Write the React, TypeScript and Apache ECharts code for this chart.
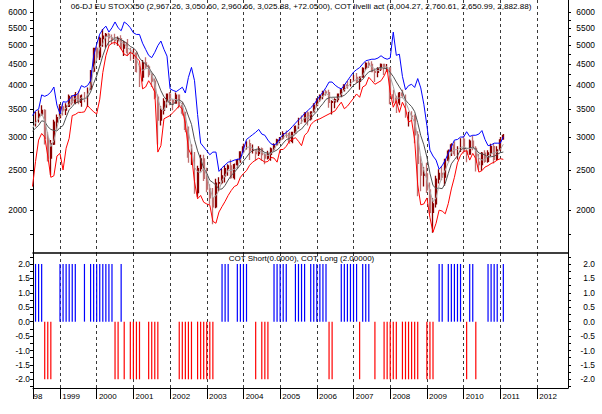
import React, { useEffect, useRef } from 'react';
import * as echarts from 'echarts';

// Monthly bars, April 1998 .. February 2011 (155 months)
const START_YEAR = 1998;
const START_MONTH = 3; // April (0-based)

const opens = [
  3153, 3195, 3358, 3406, 3480, 2977, 2671, 2887, 3260,
  3342, 3547, 3485, 3559, 3757, 3629, 3788, 3638, 3769, 3669, 3922, 4323,
  4904, 4684, 5182, 5249, 5303, 5200, 5145, 5122, 5175, 4915, 5057, 4790,
  4772, 4779, 4318, 4185, 4525, 4426, 4243, 4091, 3744, 3297, 3478, 3658,
  3806, 3670, 3624, 3784, 3574, 3426, 3133, 2685, 2710, 2204, 2518, 2657,
  2386, 2249, 2141, 2036, 2324, 2331, 2419, 2519, 2556, 2395, 2575, 2631,
  2761, 2839, 2894, 2787, 2788, 2737, 2811, 2720, 2671, 2726, 2811, 2876,
  2951, 2985, 3058, 3056, 2930, 3077, 3182, 3327, 3263, 3429, 3320, 3448,
  3579, 3691, 3775, 3854, 3839, 3638, 3649, 3692, 3808, 3899, 4004, 3987,
  4120, 4178, 4087, 4182, 4392, 4512, 4489, 4316, 4294, 4381, 4489, 4398,
  4400, 3792, 3724, 3628, 3826, 3777, 3352, 3367, 3365, 3038, 2592, 2430,
  2447, 2237, 1977, 2071, 2375, 2452, 2402, 2639, 2775, 2873, 2737, 2789,
  2965, 2776, 2728, 2932, 2817, 2610, 2574, 2742, 2622, 2748, 2845, 2651,
  2793, 2967.26,
];
const highs = [
  3340, 3450, 3480, 3580, 3500, 3080, 2950, 3300, 3400,
  3600, 3610, 3620, 3800, 3790, 3850, 3880, 3800, 3850, 3950, 4350, 4920,
  4960, 5240, 5460, 5340, 5350, 5300, 5320, 5240, 5280, 5110, 5170, 4920,
  4890, 4800, 4450, 4600, 4670, 4480, 4290, 4150, 3800, 3560, 3720, 3820,
  3850, 3700, 3840, 3800, 3650, 3450, 3180, 2880, 2760, 2560, 2720, 2720,
  2530, 2310, 2260, 2380, 2400, 2520, 2560, 2580, 2650, 2590, 2660, 2770,
  2890, 2930, 2960, 2880, 2800, 2850, 2830, 2740, 2780, 2830, 2900, 2970,
  3000, 3100, 3110, 3090, 3090, 3200, 3340, 3380, 3440, 3460, 3460, 3620,
  3720, 3800, 3880, 3900, 3900, 3680, 3720, 3820, 3920, 4020, 4100, 4140,
  4230, 4280, 4200, 4420, 4540, 4570, 4570, 4390, 4420, 4510, 4500, 4500,
  4420, 3900, 3770, 3850, 3900, 3800, 3450, 3460, 3400, 3100, 2700, 2540,
  2600, 2330, 2140, 2420, 2510, 2560, 2660, 2800, 2900, 2930, 2850, 2980,
  3020, 2800, 2960, 3020, 2850, 2730, 2760, 2790, 2790, 2890, 2900, 2850,
  3000, 3050.6,
];
const lows = [
  3110, 3180, 3250, 3380, 2880, 2620, 2430, 2870, 3110,
  3320, 3380, 3390, 3550, 3580, 3600, 3600, 3550, 3640, 3550, 3900, 4300,
  4580, 4600, 4950, 4920, 4980, 5020, 5000, 4980, 4880, 4700, 4700, 4580,
  4620, 4290, 3960, 4080, 4380, 4180, 3960, 3700, 2880, 3200, 3400, 3530,
  3580, 3480, 3610, 3520, 3380, 3080, 2600, 2570, 2190, 2150, 2480, 2350,
  2210, 2060, 1850, 2020, 2220, 2310, 2330, 2420, 2380, 2370, 2520, 2600,
  2750, 2800, 2640, 2740, 2630, 2700, 2630, 2580, 2650, 2630, 2780, 2860,
  2900, 2960, 2990, 2890, 2900, 3050, 3140, 3230, 3250, 3200, 3290, 3440,
  3540, 3650, 3700, 3770, 3530, 3400, 3520, 3640, 3740, 3860, 3920, 3970,
  4080, 4050, 3900, 4170, 4360, 4400, 4300, 4070, 4180, 4330, 4230, 4310,
  3600, 3620, 3430, 3580, 3720, 3340, 3180, 3280, 2900, 2160, 2220, 2280,
  2200, 1960, 1765, 2030, 2320, 2360, 2290, 2610, 2700, 2700, 2650, 2760,
  2740, 2610, 2720, 2790, 2480, 2500, 2490, 2600, 2600, 2700, 2590, 2640,
  2780, 2960.66,
];
const closes = [
  3195, 3358, 3406, 3480, 2977, 2671, 2887, 3260, 3342,
  3547, 3485, 3559, 3757, 3629, 3788, 3638, 3769, 3669, 3922, 4323, 4904,
  4684, 5182, 5249, 5303, 5200, 5145, 5122, 5175, 4915, 5057, 4790, 4772,
  4779, 4318, 4185, 4525, 4426, 4243, 4091, 3744, 3297, 3478, 3658, 3806,
  3670, 3624, 3784, 3574, 3426, 3133, 2685, 2710, 2204, 2518, 2657, 2386,
  2249, 2141, 2036, 2324, 2331, 2419, 2519, 2556, 2395, 2575, 2631, 2761,
  2839, 2894, 2787, 2788, 2737, 2811, 2720, 2671, 2726, 2811, 2876, 2951,
  2985, 3058, 3056, 2930, 3077, 3182, 3327, 3263, 3429, 3320, 3448, 3579,
  3691, 3775, 3854, 3839, 3638, 3649, 3692, 3808, 3899, 4004, 3987, 4120,
  4178, 4087, 4182, 4392, 4512, 4489, 4316, 4294, 4381, 4489, 4398, 4400,
  3792, 3724, 3628, 3826, 3777, 3352, 3367, 3365, 3038, 2592, 2430, 2447,
  2237, 1977, 2071, 2375, 2452, 2402, 2639, 2775, 2873, 2737, 2789, 2965,
  2776, 2728, 2932, 2817, 2610, 2574, 2742, 2622, 2748, 2845, 2651, 2793,
  2954, 3025.88,
];

// "COT livelli" lines
const blueLevel = [
  3380, 3470, 3500, 3790, 3760, 3790, 3850, 3960, 3580,
  3410, 3650, 3640, 3690, 3775, 3775, 3830, 3990, 3955, 3990, 4100, 4700,
  5020, 5310, 5450, 5550, 5370, 5500, 5680, 5500, 5410, 5680, 5610, 5500,
  5350, 5300, 5300, 5050, 4880, 4720, 4660, 4800, 4980, 5110, 4880, 4700,
  3920, 3885, 3860, 3905, 3955, 3830, 4175, 4415, 4100, 3400, 2900, 2840,
  2780, 2720, 2760, 2760, 2480, 2530, 2570, 2610, 2620, 2640, 2650, 2660,
  2800, 2960, 3000, 3040, 3080, 3130, 3050, 3030, 2950, 2890, 2870, 2900,
  2990, 3040, 3080, 3120, 3180, 3240, 3300, 3350, 3420, 3470, 3530, 3590,
  3680, 3770, 3850, 3950, 4070, 4070, 4000, 3950, 3920, 4000, 4100, 4200,
  4300, 4360, 4410, 4500, 4580, 4600, 4620, 4620, 4650, 4710, 4650, 4620,
  4650, 5370, 4720, 4750, 4200, 3900, 3990, 4020, 3950, 4150, 3940, 3600,
  3200, 2790, 2700, 2640, 2510, 2560, 2640, 2740, 2840, 2950, 2960, 3000,
  3000, 3090, 3010, 3030, 3030, 3050, 3110, 2960, 2860, 2870, 2900, 2900,
  2900, 3004.27,
];
const redLevel = [
  2280, 2620, 2950, 3060, 3000, 2700, 2400, 2420, 2700,
  2740, 2500, 2820, 2980, 3380, 3400, 3440, 3440, 3450, 3570, 3510, 3450,
  3410, 3700, 4290, 4710, 4980, 5050, 5070, 5020, 4890, 4750, 4710, 4800,
  4750, 4650, 4580, 3920, 3960, 4100, 3990, 3850, 2760, 2860, 3320, 3350,
  3380, 3440, 3500, 3570, 3500, 3230, 2810, 2710, 2340, 2130, 2170, 2090,
  2070, 2056, 1880, 1860, 1980, 2040, 2100, 2170, 2230, 2280, 2300, 2400,
  2450, 2490, 2565, 2610, 2640, 2670, 2640, 2610, 2620, 2680, 2670, 2610,
  2800, 2800, 2850, 2930, 2960, 2990, 2930, 2860, 3030, 3080, 3210, 3270,
  3300, 3320, 3350, 3380, 3410, 3440, 3470, 3560, 3640, 3510, 3560, 3640,
  3720, 3810, 3740, 3960, 4000, 4180, 4100, 4020, 4060, 4100, 4210, 4370,
  3850, 3540, 3670, 3440, 3640, 3510, 3260, 3290, 2950, 2300, 2060, 2070,
  2140, 1920, 1770, 1860, 2000, 1990, 1960, 2075, 2250, 2400, 2600, 2710,
  2770, 2780, 2640, 2740, 2660, 2470, 2490, 2540, 2560, 2590, 2610, 2640,
  2660, 2650.99,
];
const darkGrayLevel = [
  3100, 3150, 3200, 3283, 3270, 3180, 3130, 3113, 3103,
  3161, 3199, 3347, 3492, 3553, 3628, 3643, 3690, 3709, 3736, 3852, 4038,
  4212, 4447, 4711, 4941, 5087, 5127, 5200, 5199, 5144, 5103, 5034, 4960,
  4915, 4836, 4650, 4561, 4501, 4413, 4298, 4203, 4055, 3880, 3752, 3679,
  3609, 3589, 3670, 3686, 3648, 3536, 3371, 3219, 2956, 2779, 2652, 2527,
  2454, 2360, 2331, 2299, 2245, 2250, 2295, 2364, 2424, 2466, 2516, 2573,
  2627, 2683, 2748, 2784, 2801, 2810, 2790, 2753, 2743, 2746, 2769, 2793,
  2837, 2901, 2956, 2976, 3010, 3048, 3105, 3136, 3202, 3266, 3328, 3395,
  3455, 3540, 3611, 3698, 3730, 3741, 3742, 3747, 3755, 3782, 3840, 3919,
  3999, 4046, 4093, 4129, 4229, 4307, 4330, 4364, 4397, 4414, 4395, 4380,
  4293, 4198, 4072, 3962, 3858, 3684, 3613, 3553, 3455, 3249, 3024, 2874,
  2685, 2455, 2293, 2256, 2260, 2253, 2320, 2452, 2586, 2646, 2703, 2796,
  2819, 2812, 2821, 2835, 2805, 2745, 2734, 2716, 2685, 2690, 2697, 2725,
  2751, 2760.61,
];
const lightGrayLevel = [
  3150, 3250, 3320, 3415, 3288, 3043, 2845, 2939, 3163,
  3383, 3458, 3530, 3600, 3648, 3725, 3685, 3732, 3692, 3787, 3971, 4383,
  4637, 4923, 5038, 5245, 5251, 5216, 5156, 5147, 5071, 5049, 4921, 4873,
  4780, 4623, 4427, 4343, 4379, 4398, 4253, 4026, 3711, 3506, 3478, 3647,
  3711, 3700, 3693, 3661, 3595, 3378, 3081, 2843, 2533, 2477, 2460, 2520,
  2431, 2259, 2142, 2167, 2230, 2358, 2423, 2498, 2490, 2509, 2534, 2656,
  2744, 2831, 2840, 2823, 2771, 2779, 2756, 2734, 2706, 2736, 2804, 2879,
  2937, 2998, 3033, 3015, 3021, 3063, 3195, 3257, 3340, 3337, 3399, 3449,
  3573, 3682, 3773, 3823, 3777, 3709, 3660, 3716, 3800, 3904, 3963, 4037,
  4095, 4128, 4149, 4220, 4362, 4464, 4439, 4366, 4330, 4388, 4423, 4429,
  4197, 3972, 3715, 3726, 3744, 3652, 3499, 3361, 3257, 2998, 2687, 2490,
  2371, 2220, 2095, 2141, 2299, 2410, 2498, 2605, 2762, 2795, 2800, 2830,
  2843, 2823, 2812, 2826, 2786, 2667, 2642, 2646, 2704, 2738, 2748, 2763,
  2799, 2882.88,
];

// COT signal: +2 = COT Long, -2 = COT Short, 0 = none
const cotSignal = [
  0, 2, 2, 2, -2, -2, -2, 0, 0,
  2, 2, 2, 2, 2, 2, 0, 0, 2, 0, 2, 2,
  2, 2, 2, 2, 2, 2, -2, -2, 2, -2, 0, -2,
  -2, -2, -2, 0, 0, -2, -2, -2, -2, 0, 0, 0,
  0, 0, 0, -2, -2, -2, -2, -2, 0, -2, -2, -2,
  -2, -2, -2, 0, 0, 2, 2, 2, 0, 0, 2, 2,
  2, 2, 0, 0, -2, 0, -2, -2, -2, 0, 2, 2,
  2, 2, 2, 0, 0, 2, 2, 2, 2, 0, 2, 2,
  2, 2, 2, 2, -2, -2, 0, 0, 2, 2, 2, 2,
  2, 2, -2, 2, 2, 2, 0, -2, 0, 0, -2, -2,
  -2, -2, -2, 0, -2, -2, -2, -2, -2, -2, 0, 0,
  -2, -2, -2, 0, 2, 2, 0, 2, 2, 2, 2, 2,
  0, -2, 2, 2, -2, 0, 0, 0, 2, 2, 2, 2,
  0, 2,
];

const yearTicks = [1999, 2000, 2001, 2002, 2003, 2004, 2005, 2006, 2007, 2008, 2009, 2010, 2011, 2012];
const priceLabels = [2000, 2500, 3000, 3500, 4000, 4500, 5000, 5500, 6000];
const priceMinor = [1750, 2250, 2750, 3250, 3750, 4250, 4750, 5250, 5750];
const cotLabels = [-2, -1.5, -1, -0.5, 0, 0.5, 1, 1.5, 2];
const cotMinor = [-2.25, -1.75, -1.25, -0.75, -0.25, 0.25, 0.75, 1.25, 1.75, 2.25];

const TITLE_TOP =
  '06-DJ EU STOXX50 (2,967.26, 3,050.60, 2,960.66, 3,025.88, +72.0500), COT livelli act (3,004.27, 2,760.61, 2,650.99, 2,882.88)';
const TITLE_BOTTOM = 'COT Short(0.0000), COT Long (2.00000)';

const X_MIN = 1998.264;
const X_MAX = 2012.846;
const P_MIN = 1577;
const P_MAX = 6416;
const C_MIN = -2.3;
const C_MAX = 2.38;

const FONT = "'Liberation Sans', Arial, sans-serif";

export default function App() {
  const ref = useRef<HTMLDivElement>(null);

  useEffect(() => {
    if (!ref.current) return;
    const chart = echarts.init(ref.current, undefined, { renderer: 'svg' });

    const monthX = closes.map((_, i) => START_YEAR + (START_MONTH + i) / 12);
    const pair = (arr: number[]) => arr.map((v, i) => [monthX[i], v]);
    const candles = closes.map((c, i) => [monthX[i], opens[i], c, lows[i], highs[i]]);
    const longBars = cotSignal.map((v, i) => (v > 0 ? [monthX[i], v] : null)).filter(Boolean);
    const shortBars = cotSignal.map((v, i) => (v < 0 ? [monthX[i], v] : null)).filter(Boolean);

    const lg = (v: number) => Math.log10(v);
    const dashed = { show: true, lineStyle: { color: '#3a3a3a', type: [3, 3] as any, width: 1 } };
    const blackLine = { show: true, onZero: false, lineStyle: { color: '#000', width: 1 } };

    const priceLabelAxis = (pos: 'left' | 'right') => ({
      type: 'value',
      gridIndex: 0,
      position: pos,
      min: lg(P_MIN),
      max: lg(P_MAX),
      axisLine: blackLine,
      axisTick: {
        show: true,
        length: 3,
        customValues: [...priceLabels, ...priceMinor].map(lg),
        lineStyle: { color: '#000' },
      },
      axisLabel: {
        customValues: priceLabels.map(lg),
        formatter: (v: number) => String(Math.round(Math.pow(10, v))),
        margin: pos === 'left' ? 6 : 27,
        align: 'right',
        fontSize: 8.4,
        fontFamily: FONT,
        color: '#000',
      },
      splitLine: { show: false },
    });

    const cotAxis = (pos: 'left' | 'right') => ({
      type: 'value',
      gridIndex: 1,
      position: pos,
      min: C_MIN,
      max: C_MAX,
      axisLine: blackLine,
      axisTick: {
        show: true,
        length: 3,
        customValues: [...cotLabels, ...cotMinor],
        lineStyle: { color: '#000' },
      },
      axisLabel: {
        customValues: cotLabels,
        formatter: (v: number) => v.toFixed(1),
        margin: pos === 'left' ? 3 : 27,
        align: 'right',
        fontSize: 8.4,
        fontFamily: FONT,
        color: '#000',
      },
      splitLine: { show: false },
    });

    chart.setOption({
      animation: false,
      backgroundColor: '#fff',
      grid: [
        { left: 33, right: 34, top: -1, height: 254 },
        { left: 33, right: 34, top: 253, height: 135 },
      ],
      xAxis: [
        {
          type: 'value',
          gridIndex: 0,
          min: X_MIN,
          max: X_MAX,
          position: 'bottom',
          axisLine: { show: true, onZero: false, lineStyle: { color: '#000', width: 1.5 } },
          axisTick: { show: false, customValues: yearTicks },
          axisLabel: { show: false, customValues: yearTicks },
          splitLine: dashed,
        },
        {
          type: 'value',
          gridIndex: 1,
          min: X_MIN,
          max: X_MAX,
          position: 'bottom',
          axisLine: blackLine,
          axisTick: { show: true, length: 11, customValues: [X_MIN, ...yearTicks], lineStyle: { color: '#000' } },
          axisLabel: {
            customValues: yearTicks,
            formatter: (v: number) => ' ' + Math.round(v),
            align: 'left',
            margin: 4,
            fontSize: 8,
            fontFamily: FONT,
            color: '#000',
          },
          splitLine: dashed,
        },
      ],
      yAxis: [
        { type: 'log', logBase: 10, gridIndex: 0, min: P_MIN, max: P_MAX, show: false },
        priceLabelAxis('left'),
        priceLabelAxis('right'),
        cotAxis('left'),
        cotAxis('right'),
      ],
      series: [
        {
          type: 'line',
          xAxisIndex: 0,
          yAxisIndex: 0,
          data: pair(darkGrayLevel),
          showSymbol: false,
          symbol: 'none',
          lineStyle: { color: '#505050', width: 1 },
        },
        {
          type: 'line',
          xAxisIndex: 0,
          yAxisIndex: 0,
          data: pair(lightGrayLevel),
          showSymbol: false,
          symbol: 'none',
          lineStyle: { color: '#a8a8a8', width: 1 },
        },
        {
          type: 'candlestick',
          xAxisIndex: 0,
          yAxisIndex: 0,
          data: candles,
          encode: { x: 0, y: [1, 2, 3, 4] },
          barWidth: 1.4,
          itemStyle: {
            color: '#8a0000',
            color0: '#c07070',
            borderColor: '#8a0000',
            borderColor0: '#c07070',
            borderWidth: 1.3,
          },
        },
        {
          type: 'line',
          xAxisIndex: 0,
          yAxisIndex: 0,
          data: pair(redLevel),
          showSymbol: false,
          symbol: 'none',
          lineStyle: { color: '#ff0000', width: 1 },
        },
        {
          type: 'line',
          xAxisIndex: 0,
          yAxisIndex: 0,
          data: pair(blueLevel),
          showSymbol: false,
          symbol: 'none',
          lineStyle: { color: '#0000ff', width: 1 },
        },
        {
          type: 'bar',
          xAxisIndex: 1,
          yAxisIndex: 3,
          data: longBars,
          barWidth: 1.2,
          itemStyle: { color: '#0000ff' },
        },
        {
          type: 'bar',
          xAxisIndex: 1,
          yAxisIndex: 3,
          data: shortBars,
          barWidth: 1.2,
          barGap: '-100%',
          itemStyle: { color: '#ff0000' },
        },
      ],
      graphic: [
        {
          type: 'text',
          z: 100,
          x: 301,
          y: 6.5,
          style: {
            text: TITLE_TOP,
            font: `8.1px ${FONT}`,
            fill: '#000',
            textAlign: 'center',
            textVerticalAlign: 'middle',
          },
        },
        {
          type: 'text',
          z: 100,
          x: 301.5,
          y: 258.5,
          style: {
            text: TITLE_BOTTOM,
            font: `8px ${FONT}`,
            fill: '#000',
            textAlign: 'center',
            textVerticalAlign: 'middle',
          },
        },
        {
          type: 'text',
          z: 100,
          x: 33.5,
          y: 396,
          style: {
            text: '98',
            font: `8px ${FONT}`,
            fill: '#000',
            textAlign: 'left',
            textVerticalAlign: 'middle',
          },
        },
      ],
    });

    return () => chart.dispose();
  }, []);

  return (
    <div
      ref={ref}
      style={{ position: 'fixed', left: 0, top: 0, width: 602, height: 414, background: '#fff' }}
    />
  );
}
